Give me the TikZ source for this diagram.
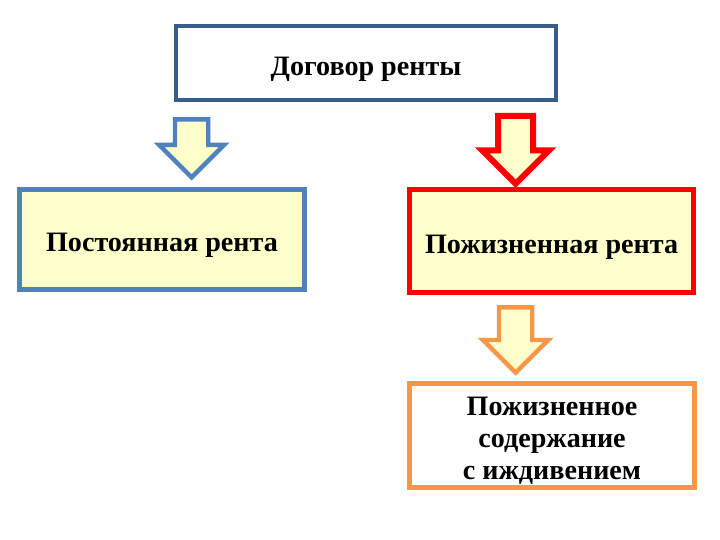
\documentclass[tikz,border=0pt]{standalone}
\usepackage{fontspec}
\setmainfont{Liberation Serif}
\usetikzlibrary{shapes.arrows}
\definecolor{clNavyBd}  {RGB}{ 56, 93,138}
\definecolor{clBlueBd}  {RGB}{ 79,129,189}
\definecolor{clRedBd}   {RGB}{255,  0,  0}
\definecolor{clOrangeBd}{RGB}{247,150, 70}
\definecolor{clCream}   {RGB}{255,255,204}
\tikzset{
  %% rectangular box
  box/.style={
    rectangle, draw, line width=0.12cm,
    align=center, font=\fontsize{20}{23}\selectfont\bfseries,
    inner sep=4pt, text height=0.75cm
  },
  navy/.style  ={box, fill=white,   draw=clNavyBd},
  blue/.style  ={box, fill=clCream, draw=clBlueBd},
  red/.style   ={box, fill=clCream, draw=clRedBd},
  orange/.style={box, fill=white,   draw=clOrangeBd, text height=2.33cm, inner ysep=0pt},
  %% block arrow pointing down, placed by its tail
  down/.style={
    single arrow, rotate=-90, anchor=tail, fill=clCream, line width=0.11cm,
    minimum width=0pt, minimum height=#1,
    single arrow head extend=0.4cm, inner sep=0.36cm
  }
}

\begin{document}
\begin{tikzpicture}
\useasboundingbox (0,0) rectangle (18,-13.5);

%% boxes
\node[navy, minimum width=9.5cm, minimum height=1.85cm] (contract) at (9.15,-1.575)
  {Договор ренты};
\node[blue, minimum width=7.13cm, minimum height=2.5cm] (perm) at (4.05,-5.99)
  {Постоянная рента};
\node[red, minimum width=7.1cm, minimum height=2.58cm] (life) at (13.79,-6.025)
  {Пожизненная рента};
\node[orange, minimum width=7.13cm, minimum height=2.6cm] (upkeep) at (13.8,-10.89)
  {Пожизненное\\содержание\\с иждивением};

%% arrows
\node[down=1.45cm, draw=clBlueBd]   (aPerm)   at (4.79,-2.93)  {};
\node[down=1.7cm,  draw=clRedBd, line width=0.15cm] (aLife) at (12.89,-2.82) {};
\node[down=1.63cm, draw=clOrangeBd] (aUpkeep) at (12.89,-7.63) {};

\end{tikzpicture}
\end{document}
